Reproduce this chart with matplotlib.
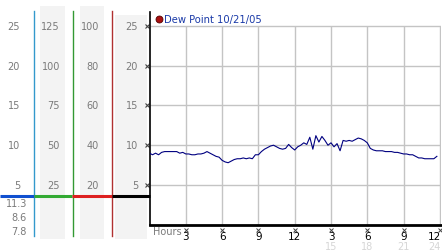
"""Dew point over one day, with the side scale columns."""
import numpy as np
import matplotlib.pyplot as plt
from matplotlib.transforms import blended_transform_factory

# dew point, read every quarter hour
hours = np.arange(0, 24, 0.25)
dew_point = [
	9.0, 8.8, 9.0, 8.8, 9.1, 9.2, 9.2, 9.2, 9.2, 9.2, 9.0, 9.1,
	8.9, 8.9, 8.8, 8.8, 8.9, 8.9, 9.0, 9.2, 9.0, 8.8, 8.6, 8.5,
	8.1, 7.9, 7.8, 8.0, 8.2, 8.3, 8.3, 8.4, 8.3, 8.4, 8.3, 8.8,
	8.8, 9.2, 9.5, 9.7, 9.9, 10.0, 9.8, 9.6, 9.5, 9.6, 10.1, 9.7,
	9.4, 9.8, 10.0, 10.3, 10.1, 11.0, 9.5, 11.2, 10.4, 11.1, 10.6, 10.0,
	10.3, 9.8, 10.2, 9.3, 10.6, 10.5, 10.6, 10.5, 10.7, 10.9, 10.8, 10.6,
	10.3, 9.6, 9.4, 9.3, 9.3, 9.3, 9.2, 9.2, 9.2, 9.1, 9.1, 9.0,
	8.9, 8.9, 8.8, 8.8, 8.6, 8.4, 8.4, 8.3, 8.3, 8.3, 8.3, 8.6,
]

y_ticks = [25, 20, 15, 10, 5]
scale_cols = [
	['25', '20', '15', '10', '5'],
	['125', '100', '75', '50', '25'],
	['100', '80', '60', '40', '20'],
	['25', '20', '15', '10', '5'],
]
stats_labels = ['11.3', '8.6', '7.8']  # max / current / min

x_ticks = [3, 6, 9, 12, 15, 18, 21, 24]
x_labels = ['3', '6', '9', '12', '3', '6', '9', '12']
x_labels_pm = ['15', '18', '21', '24']

LABEL_GREY = '#7a7a7a'
GRID = '#c4c4c4'

W, H = 442, 253
fig = plt.figure(figsize=(W / 100, H / 100), dpi=100)

# background axes in pixel units for the side panel
bg = fig.add_axes([0, 0, 1, 1])
bg.set_xlim(0, W)
bg.set_ylim(H, 0)
bg.axis('off')

ax = fig.add_axes([149.5 / W, 1 - 225.8 / H, 291.6 / W, 212.5 / H])
ax.set_facecolor('none')
ax.set_xlim(0, 24.1)
ax.set_ylim(0, 26.7)

# grid, stopping at 25 like the original
ax.hlines([5, 10, 15, 20, 25], 0, 24.1, color=GRID, lw=1, zorder=1)
ax.vlines(x_ticks, 0, 25, color=GRID, lw=1, zorder=1)

ax.plot(hours, dew_point, color='#000080', lw=0.8, zorder=3)

for s in ['top', 'right']:
	ax.spines[s].set_visible(False)
ax.spines['left'].set_linewidth(1.2)
ax.spines['bottom'].set_linewidth(2)
ax.set_xticks([])
ax.set_yticks([])

# side panel: shaded columns and coloured scale lines
for x0, x1, top in [(40, 65, 7), (80, 104, 7), (115, 147, 16)]:
	bg.fill_between([x0, x1], top, 240, color='#f3f3f3', lw=0, zorder=0)
for x, c in [(33.5, '#3399cc'), (72.5, '#339933'), (111.5, '#b03030')]:
	bg.plot([x, x], [12, 237], color=c, lw=1)

ty = blended_transform_factory(bg.transData, ax.transData)
base = 3.6
for x0, x1, c in [(0, 34, '#1050d0'), (34, 72, '#33aa33'),
                  (72, 112, '#dd2020'), (112, 149.5, 'black')]:
	bg.plot([x0, x1], [base, base], color=c, lw=2.2, transform=ty,
	        solid_capstyle='butt')

for col_x, labels in zip([20, 60, 99, 138], scale_cols):
	for v, lab in zip(y_ticks, labels):
		bg.text(col_x, v, lab, transform=ty, ha='right', va='center',
		        fontsize=7, color=LABEL_GREY)
for v in y_ticks:
	bg.plot([146.5], [v], marker='x', ms=2.5, mew=0.8, color='#444444',
	        transform=ty)

for yy, lab in zip([204, 218, 232], stats_labels):
	bg.text(27, yy, lab, ha='right', va='center', fontsize=7,
	        color=LABEL_GREY)

# x labels (the last column is pulled in so it stays on the canvas)
tx = blended_transform_factory(ax.transData, bg.transData)
for x, lab in zip(x_ticks, x_labels):
	ax.plot([x], [230.5], marker='x', ms=2.2, mew=0.7, color='#444444',
	        transform=tx, clip_on=False)
	ha = 'right' if x == 24 else 'center'
	xt = 24.1 if x == 24 else x
	ax.text(xt, 237, lab, transform=tx, ha=ha, va='center',
	        fontsize=7.5, color='black')
for x, lab in zip(x_ticks[4:], x_labels_pm):
	ha = 'right' if x == 24 else 'center'
	xt = 24.1 if x == 24 else x
	ax.text(xt, 247, lab, transform=tx, ha=ha, va='center',
	        fontsize=7, color='#d6d6d6')
bg.text(153, 232, 'Hours', ha='left', va='center', fontsize=7,
        color=LABEL_GREY)

# legend
bg.plot([159], [20], marker='o', ms=5, color='#aa1010', mec='#550000',
        mew=0.6)
bg.text(164, 20, 'Dew Point 10/21/05', ha='left', va='center',
        fontsize=7.2, color='#1a3aa8')

fig.savefig('out.png', dpi=100)
